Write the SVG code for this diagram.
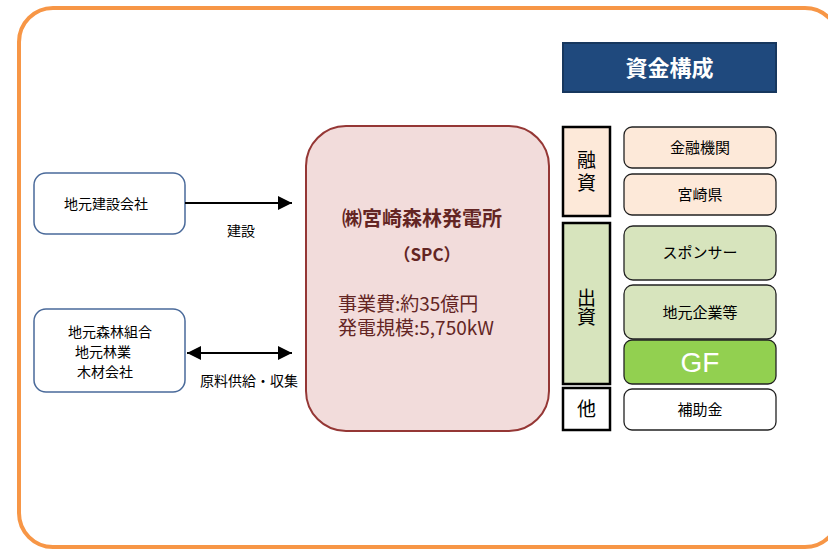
<svg xmlns="http://www.w3.org/2000/svg" width="828" height="550" viewBox="0 0 828 550">
<defs>
<style>
text{font-family:"Noto Sans CJK JP","Liberation Sans",sans-serif;}
.lbox{fill:#fff;stroke:#4a6a9a;stroke-width:1.5;}
.t14{font-size:14px;fill:#000;text-anchor:middle;}
.t15{font-size:15px;fill:#000;text-anchor:middle;}
.cat{stroke:#000;stroke-width:2.5;}
.item{stroke:#222;stroke-width:1.3;}
.vt{font-size:19px;fill:#000;text-anchor:middle;}
.conn{stroke:#000;stroke-width:2;fill:none;}
.spc{fill:#632523;}
</style>
<marker id="ah" viewBox="0 0 10 10" refX="10" refY="5" markerWidth="8" markerHeight="7" markerUnits="strokeWidth" orient="auto-start-reverse">
<path d="M0,0 L10,5 L0,10 z" fill="#000"/>
</marker>
</defs>
<rect x="0" y="0" width="828" height="550" fill="#fff"/>
<rect id="frame" x="19" y="8" width="820" height="539" rx="34" fill="#fff" stroke="#f79646" stroke-width="4"/>

<g id="header">
<rect x="563" y="43" width="213" height="49" fill="#1f497d" stroke="#17375e" stroke-width="2"/>
<text x="669.5" y="76" style="font-size:22px;font-weight:bold;fill:#fff;text-anchor:middle;">資金構成</text>
</g>

<g id="n-kensetsu">
<rect class="lbox" x="34" y="173" width="151" height="61" rx="12"/>
<text class="t14" x="106" y="209">地元建設会社</text>
</g>
<g id="n-shinrin">
<rect class="lbox" x="34" y="309" width="151" height="83" rx="12"/>
<text class="t14" x="110" y="337">地元森林組合</text>
<text class="t14" x="103" y="357">地元林業</text>
<text class="t14" x="105" y="377">木材会社</text>
</g>

<g id="n-spc">
<rect x="306" y="126" width="243" height="305" rx="40" fill="#f2dcdb" stroke="#953735" stroke-width="2"/>
<text class="spc" x="422" y="226" style="font-size:20px;font-weight:bold;text-anchor:middle;">㈱宮崎森林発電所</text>
<text class="spc" x="427" y="261" style="font-size:17px;font-weight:bold;text-anchor:middle;">（SPC）</text>
<text class="spc" x="338" y="311" style="font-size:19px;">事業費:約35億円</text>
<text class="spc" x="338" y="335" style="font-size:19px;">発電規模:5,750kW</text>
</g>

<g id="n-yushi">
<rect class="cat" x="563" y="127" width="47" height="89" fill="#fde9d9"/>
<text class="vt" x="586.5" y="167">融</text>
<text class="vt" x="586.5" y="190">資</text>
</g>
<g id="n-shusshi">
<rect class="cat" x="563" y="223" width="47" height="161" fill="#d7e4bd"/>
<text class="vt" x="586.5" y="305">出</text>
<text class="vt" x="586.5" y="324">資</text>
</g>
<g id="n-ta">
<rect class="cat" x="563" y="388" width="47" height="42" fill="#fff"/>
<text class="vt" x="586.5" y="416">他</text>
</g>

<g id="n-kinyu">
<rect class="item" x="624" y="127" width="152" height="41" rx="8" fill="#fde9d9"/>
<text class="t15" x="700" y="153">金融機関</text>
</g>
<g id="n-miyazaki">
<rect class="item" x="624" y="174" width="152" height="41" rx="8" fill="#fde9d9"/>
<text class="t15" x="700" y="200">宮崎県</text>
</g>
<g id="n-sponsor">
<rect class="item" x="624" y="226" width="152" height="54" rx="9" fill="#d7e4bd"/>
<text class="t15" x="700" y="258">スポンサー</text>
</g>
<g id="n-jimoto">
<rect class="item" x="624" y="285" width="152" height="54" rx="9" fill="#d7e4bd"/>
<text class="t15" x="700" y="318">地元企業等</text>
</g>
<g id="n-gf">
<rect class="item" x="624" y="340" width="152" height="44" rx="8" fill="#92d050"/>
<text x="700" y="372" style="font-family:'Liberation Sans',Arial,sans-serif;font-size:28px;fill:#fff;text-anchor:middle;">GF</text>
</g>
<g id="n-hojo">
<rect class="item" x="624" y="389" width="152" height="41" rx="8" fill="#fff"/>
<text class="t15" x="700" y="415">補助金</text>
</g>

<g id="connectors">
<line class="conn" x1="185" y1="203" x2="292" y2="203" marker-end="url(#ah)"/>
<text class="t14" x="241" y="236">建設</text>
<line class="conn" x1="187" y1="353" x2="292" y2="353" marker-start="url(#ah)" marker-end="url(#ah)"/>
<text class="t14" x="249" y="386">原料供給・収集</text>
</g>
</svg>
